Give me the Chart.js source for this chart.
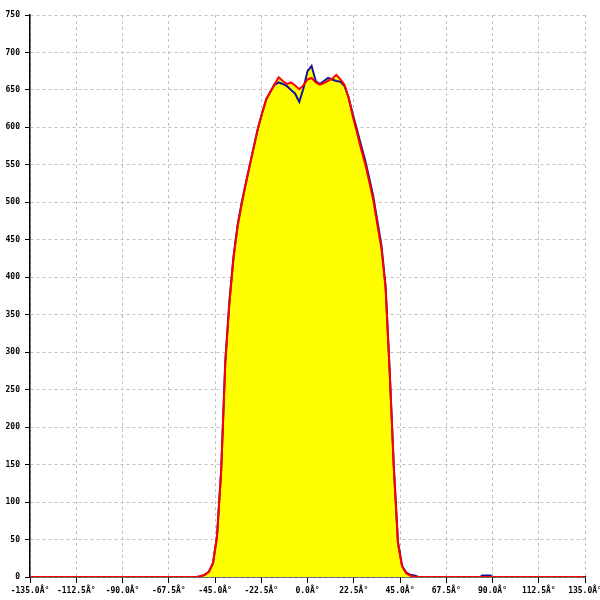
<!DOCTYPE html>
<html>
<head>
<meta charset="utf-8">
<script src="https://cdn.jsdelivr.net/npm/chart.js@4/dist/chart.umd.min.js"></script>
<style>
  html, body { margin: 0; padding: 0; background: #fff; }
  #wrap { width: 600px; height: 600px; }
</style>
</head>
<body>
<div id="wrap"><canvas id="beamChart" width="600" height="600"></canvas></div>
<script>
'use strict';

// angle (deg) for every sample
var angles = [-135, -54, -52, -50, -48, -46, -44, -42, -40, -38, -36, -34, -32, -30, -28, -26, -24, -22, -20,
  -18, -16, -14, -12, -10, -8, -6, -4, -2, 0, 2, 4, 6, 8, 10, 12, 14, 16, 18, 20, 22, 24, 26, 28, 30,
  32, 34, 36, 38, 40, 42, 44, 46, 48, 50, 52, 54, 84, 85, 89, 90, 135];

var redValues = [0, 0, 1, 3, 7, 18, 55, 142, 285, 365, 425, 468, 498, 525, 550, 575, 600, 620, 638,
  648, 658, 667, 662, 658, 660, 656, 651, 656, 664, 666, 660, 657, 659, 662, 665, 670, 664, 657, 640, 615, 594, 572, 552, 528,
  503, 470, 438, 385, 272, 145, 45, 14, 5, 2, 0, 0, 0, 0, 0, 0, 0];

var blueValues = [0, 0, 1, 3, 7, 18, 55, 142, 288, 368, 428, 470, 500, 526, 551, 576, 600, 620, 638,
  648, 657, 660, 658, 655, 650, 645, 634, 652, 675, 682, 662, 658, 662, 666, 664, 662, 661, 655, 640, 618, 598, 577, 557, 533,
  508, 475, 442, 388, 274, 147, 47, 15, 6, 3, 2, 0, 0, 2, 2, 0, 0];

var yTicks = [0, 750, 50];      // min, max, step
var xTicks = [-135, 135, 22.5]; // min, max, step

function toPoints(vals) {
  var pts = [];
  for (var i = 0; i < angles.length; i++) {
    pts.push({ x: angles[i], y: vals[i] });
  }
  return pts;
}

Chart.defaults.font.family = '"DejaVu Sans Mono", monospace';
Chart.defaults.font.size = 8;
Chart.defaults.font.weight = 'bold';
Chart.defaults.color = '#000';

var ctx = document.getElementById('beamChart').getContext('2d');
var beamChart = new Chart(ctx, {
  type: 'line',
  data: {
    datasets: [
      {
        label: 'red',
        data: toPoints(redValues),
        borderColor: '#ff0000',
        borderWidth: 2,
        backgroundColor: '#ffff00',
        fill: 'origin',
        pointRadius: 0,
        tension: 0
      },
      {
        label: 'blue',
        data: toPoints(blueValues),
        borderColor: '#14149c',
        borderWidth: 2,
        backgroundColor: '#ffff00',
        fill: 'origin',
        pointRadius: 0,
        tension: 0
      }
    ]
  },
  options: {
    responsive: false,
    animation: false,
    layout: { padding: { top: 15, right: 15, left: 0, bottom: 0 } },
    plugins: {
      legend: { display: false },
      tooltip: { enabled: false },
      filler: { drawTime: 'beforeDatasetsDraw' }
    },
    scales: {
      x: {
        type: 'linear',
        min: xTicks[0],
        max: xTicks[1],
        ticks: {
          stepSize: xTicks[2],
          padding: 3,
          maxRotation: 0,
          autoSkip: false,
          callback: function(v) { return v.toFixed(1) + 'Â°'; }
        },
        grid: { color: '#c0c0c0', tickColor: '#000', tickLength: 6, tickBorderDash: [] },
        border: { color: '#000', width: 1.5, dash: [3, 3] },
        afterFit: function(scale) {
          scale.height = 23;
          scale.paddingLeft = 0;
          scale.paddingRight = 0;
        }
      },
      y: {
        min: yTicks[0],
        max: yTicks[1],
        ticks: { stepSize: yTicks[2], padding: 5 },
        grid: { color: '#c0c0c0', tickColor: '#000', tickLength: 5, tickBorderDash: [] },
        border: { color: '#000', width: 1.5, dash: [3, 3] },
        afterFit: function(scale) {
          scale.width = 30;
        }
      }
    }
  }
});
</script>
</body>
</html>
